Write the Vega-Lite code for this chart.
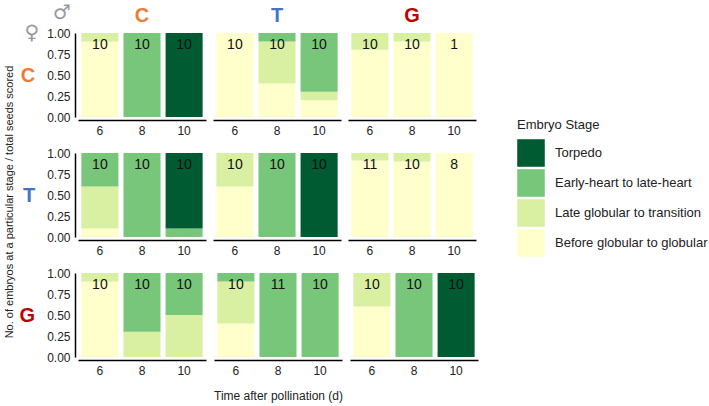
{
  "$schema": "https://vega.github.io/schema/vega-lite/v6.json",
  "padding": {"left": 4, "top": 3, "right": 5, "bottom": 5},
  "background": "white",
  "title": {"text": "No. of embryos at a particular stage / total seeds scored", "orient": "left", "anchor": "middle", "frame": "bounds", "fontSize": 11, "fontWeight": "normal", "font": "Liberation Sans", "color": "#222", "offset": 4},
  "datasets": {
    "stages": [
      {"female": "C", "male": "C", "time": 6, "stage": "Before globular to globular", "k": 1, "prop": 0.9},
      {"female": "C", "male": "C", "time": 6, "stage": "Late globular to transition", "k": 2, "prop": 0.1},
      {"female": "C", "male": "C", "time": 8, "stage": "Early-heart to late-heart", "k": 3, "prop": 1.0},
      {"female": "C", "male": "C", "time": 10, "stage": "Torpedo", "k": 4, "prop": 1.0},
      {"female": "C", "male": "T", "time": 6, "stage": "Before globular to globular", "k": 1, "prop": 1.0},
      {"female": "C", "male": "T", "time": 8, "stage": "Before globular to globular", "k": 1, "prop": 0.4},
      {"female": "C", "male": "T", "time": 8, "stage": "Late globular to transition", "k": 2, "prop": 0.5},
      {"female": "C", "male": "T", "time": 8, "stage": "Early-heart to late-heart", "k": 3, "prop": 0.1},
      {"female": "C", "male": "T", "time": 10, "stage": "Before globular to globular", "k": 1, "prop": 0.2},
      {"female": "C", "male": "T", "time": 10, "stage": "Late globular to transition", "k": 2, "prop": 0.1},
      {"female": "C", "male": "T", "time": 10, "stage": "Early-heart to late-heart", "k": 3, "prop": 0.7},
      {"female": "C", "male": "G", "time": 6, "stage": "Before globular to globular", "k": 1, "prop": 0.8},
      {"female": "C", "male": "G", "time": 6, "stage": "Late globular to transition", "k": 2, "prop": 0.2},
      {"female": "C", "male": "G", "time": 8, "stage": "Before globular to globular", "k": 1, "prop": 0.9},
      {"female": "C", "male": "G", "time": 8, "stage": "Late globular to transition", "k": 2, "prop": 0.1},
      {"female": "C", "male": "G", "time": 10, "stage": "Before globular to globular", "k": 1, "prop": 1.0},
      {"female": "T", "male": "C", "time": 6, "stage": "Before globular to globular", "k": 1, "prop": 0.1},
      {"female": "T", "male": "C", "time": 6, "stage": "Late globular to transition", "k": 2, "prop": 0.5},
      {"female": "T", "male": "C", "time": 6, "stage": "Early-heart to late-heart", "k": 3, "prop": 0.4},
      {"female": "T", "male": "C", "time": 8, "stage": "Early-heart to late-heart", "k": 3, "prop": 1.0},
      {"female": "T", "male": "C", "time": 10, "stage": "Early-heart to late-heart", "k": 3, "prop": 0.1},
      {"female": "T", "male": "C", "time": 10, "stage": "Torpedo", "k": 4, "prop": 0.9},
      {"female": "T", "male": "T", "time": 6, "stage": "Before globular to globular", "k": 1, "prop": 0.6},
      {"female": "T", "male": "T", "time": 6, "stage": "Late globular to transition", "k": 2, "prop": 0.4},
      {"female": "T", "male": "T", "time": 8, "stage": "Early-heart to late-heart", "k": 3, "prop": 1.0},
      {"female": "T", "male": "T", "time": 10, "stage": "Torpedo", "k": 4, "prop": 1.0},
      {"female": "T", "male": "G", "time": 6, "stage": "Before globular to globular", "k": 1, "prop": 0.91},
      {"female": "T", "male": "G", "time": 6, "stage": "Late globular to transition", "k": 2, "prop": 0.09},
      {"female": "T", "male": "G", "time": 8, "stage": "Before globular to globular", "k": 1, "prop": 0.9},
      {"female": "T", "male": "G", "time": 8, "stage": "Late globular to transition", "k": 2, "prop": 0.1},
      {"female": "T", "male": "G", "time": 10, "stage": "Before globular to globular", "k": 1, "prop": 1.0},
      {"female": "G", "male": "C", "time": 6, "stage": "Before globular to globular", "k": 1, "prop": 0.9},
      {"female": "G", "male": "C", "time": 6, "stage": "Late globular to transition", "k": 2, "prop": 0.1},
      {"female": "G", "male": "C", "time": 8, "stage": "Late globular to transition", "k": 2, "prop": 0.3},
      {"female": "G", "male": "C", "time": 8, "stage": "Early-heart to late-heart", "k": 3, "prop": 0.7},
      {"female": "G", "male": "C", "time": 10, "stage": "Late globular to transition", "k": 2, "prop": 0.5},
      {"female": "G", "male": "C", "time": 10, "stage": "Early-heart to late-heart", "k": 3, "prop": 0.5},
      {"female": "G", "male": "T", "time": 6, "stage": "Before globular to globular", "k": 1, "prop": 0.4},
      {"female": "G", "male": "T", "time": 6, "stage": "Late globular to transition", "k": 2, "prop": 0.5},
      {"female": "G", "male": "T", "time": 6, "stage": "Early-heart to late-heart", "k": 3, "prop": 0.1},
      {"female": "G", "male": "T", "time": 8, "stage": "Early-heart to late-heart", "k": 3, "prop": 1.0},
      {"female": "G", "male": "T", "time": 10, "stage": "Early-heart to late-heart", "k": 3, "prop": 1.0},
      {"female": "G", "male": "G", "time": 6, "stage": "Before globular to globular", "k": 1, "prop": 0.6},
      {"female": "G", "male": "G", "time": 6, "stage": "Late globular to transition", "k": 2, "prop": 0.4},
      {"female": "G", "male": "G", "time": 8, "stage": "Early-heart to late-heart", "k": 3, "prop": 1.0},
      {"female": "G", "male": "G", "time": 10, "stage": "Torpedo", "k": 4, "prop": 1.0}
    ],
    "counts": [
      {"female": "C", "male": "C", "time": 6, "n": 10}, {"female": "C", "male": "C", "time": 8, "n": 10}, {"female": "C", "male": "C", "time": 10, "n": 10},
      {"female": "C", "male": "T", "time": 6, "n": 10}, {"female": "C", "male": "T", "time": 8, "n": 10}, {"female": "C", "male": "T", "time": 10, "n": 10},
      {"female": "C", "male": "G", "time": 6, "n": 10}, {"female": "C", "male": "G", "time": 8, "n": 10}, {"female": "C", "male": "G", "time": 10, "n": 1},
      {"female": "T", "male": "C", "time": 6, "n": 10}, {"female": "T", "male": "C", "time": 8, "n": 10}, {"female": "T", "male": "C", "time": 10, "n": 10},
      {"female": "T", "male": "T", "time": 6, "n": 10}, {"female": "T", "male": "T", "time": 8, "n": 10}, {"female": "T", "male": "T", "time": 10, "n": 10},
      {"female": "T", "male": "G", "time": 6, "n": 11}, {"female": "T", "male": "G", "time": 8, "n": 10}, {"female": "T", "male": "G", "time": 10, "n": 8},
      {"female": "G", "male": "C", "time": 6, "n": 10}, {"female": "G", "male": "C", "time": 8, "n": 10}, {"female": "G", "male": "C", "time": 10, "n": 10},
      {"female": "G", "male": "T", "time": 6, "n": 10}, {"female": "G", "male": "T", "time": 8, "n": 11}, {"female": "G", "male": "T", "time": 10, "n": 10},
      {"female": "G", "male": "G", "time": 6, "n": 10}, {"female": "G", "male": "G", "time": 8, "n": 10}, {"female": "G", "male": "G", "time": 10, "n": 10}
    ],
    "labels": [{"label": "header"}]
  },
  "spacing": 11,
  "vconcat": [
    {"hconcat": [
      {"width": 128, "height": 84,
       "layer": [
        {"data": {"name": "stages"}, "transform": [{"filter": "datum.female == 'C' && datum.male == 'C'"}], "mark": "bar",
         "encoding": {"x": {"field": "time", "type": "ordinal", "axis": {"title": null}},
          "y": {"field": "prop", "type": "quantitative", "stack": "zero", "scale": {"domain": [0, 1]}, "axis": {"values": [0, 0.25, 0.5, 0.75, 1], "format": ".2f", "labelOverlap": false, "title": "C", "titleColor": "#ee7d31"}},
          "color": {"field": "stage", "type": "nominal", "title": "Embryo Stage", "scale": {"domain": ["Torpedo", "Early-heart to late-heart", "Late globular to transition", "Before globular to globular"]}}, "order": {"field": "k", "type": "quantitative"}}},
        {"data": {"name": "counts"}, "transform": [{"filter": "datum.female == 'C' && datum.male == 'C'"}], "mark": {"type": "text", "fontSize": 14, "color": "#111"},
         "encoding": {"x": {"field": "time", "type": "ordinal"}, "y": {"datum": 0.86, "type": "quantitative", "axis": {"values": [0, 0.25, 0.5, 0.75, 1], "format": ".2f", "labelOverlap": false, "title": "C", "titleColor": "#ee7d31"}}, "text": {"field": "n"}}},
        {"data": {"name": "labels"}, "mark": {"type": "text", "font": "DejaVu Sans", "fontSize": 20, "color": "#999", "dx": -68, "dy": 0}, "encoding": {"x": {"datum": 6, "type": "ordinal"}, "y": {"datum": 1, "type": "quantitative", "axis": {"values": [0, 0.25, 0.5, 0.75, 1], "format": ".2f", "labelOverlap": false, "title": "C", "titleColor": "#ee7d31"}}, "text": {"value": "♀"}}},
        {"data": {"name": "labels"}, "mark": {"type": "text", "font": "DejaVu Sans", "fontSize": 20, "color": "#999", "dx": -38, "dy": -20}, "encoding": {"x": {"datum": 6, "type": "ordinal"}, "y": {"datum": 1, "type": "quantitative", "axis": {"values": [0, 0.25, 0.5, 0.75, 1], "format": ".2f", "labelOverlap": false, "title": "C", "titleColor": "#ee7d31"}}, "text": {"value": "♂"}}},
        {"data": {"name": "labels"}, "mark": {"type": "text", "fontSize": 20, "fontWeight": "bold", "color": "#ee7d31", "dy": -17}, "encoding": {"x": {"datum": 8, "type": "ordinal"}, "y": {"datum": 1, "type": "quantitative", "axis": {"values": [0, 0.25, 0.5, 0.75, 1], "format": ".2f", "labelOverlap": false, "title": "C", "titleColor": "#ee7d31"}}, "text": {"value": "C"}}}
       ]},
      {"width": 128, "height": 84,
       "layer": [
        {"data": {"name": "stages"}, "transform": [{"filter": "datum.female == 'C' && datum.male == 'T'"}], "mark": "bar",
         "encoding": {"x": {"field": "time", "type": "ordinal", "axis": {"title": null}},
          "y": {"field": "prop", "type": "quantitative", "stack": "zero", "scale": {"domain": [0, 1]}, "axis": null},
          "color": {"field": "stage", "type": "nominal", "title": "Embryo Stage", "scale": {"domain": ["Torpedo", "Early-heart to late-heart", "Late globular to transition", "Before globular to globular"]}}, "order": {"field": "k", "type": "quantitative"}}},
        {"data": {"name": "counts"}, "transform": [{"filter": "datum.female == 'C' && datum.male == 'T'"}], "mark": {"type": "text", "fontSize": 14, "color": "#111"},
         "encoding": {"x": {"field": "time", "type": "ordinal"}, "y": {"datum": 0.86, "type": "quantitative", "axis": null}, "text": {"field": "n"}}},
        {"data": {"name": "labels"}, "mark": {"type": "text", "fontSize": 20, "fontWeight": "bold", "color": "#4472c4", "dy": -17}, "encoding": {"x": {"datum": 8, "type": "ordinal"}, "y": {"datum": 1, "type": "quantitative", "axis": null}, "text": {"value": "T"}}}
       ]},
      {"width": 128, "height": 84,
       "layer": [
        {"data": {"name": "stages"}, "transform": [{"filter": "datum.female == 'C' && datum.male == 'G'"}], "mark": "bar",
         "encoding": {"x": {"field": "time", "type": "ordinal", "axis": {"title": null}},
          "y": {"field": "prop", "type": "quantitative", "stack": "zero", "scale": {"domain": [0, 1]}, "axis": null},
          "color": {"field": "stage", "type": "nominal", "title": "Embryo Stage", "scale": {"domain": ["Torpedo", "Early-heart to late-heart", "Late globular to transition", "Before globular to globular"]}}, "order": {"field": "k", "type": "quantitative"}}},
        {"data": {"name": "counts"}, "transform": [{"filter": "datum.female == 'C' && datum.male == 'G'"}], "mark": {"type": "text", "fontSize": 14, "color": "#111"},
         "encoding": {"x": {"field": "time", "type": "ordinal"}, "y": {"datum": 0.86, "type": "quantitative", "axis": null}, "text": {"field": "n"}}},
        {"data": {"name": "labels"}, "mark": {"type": "text", "fontSize": 20, "fontWeight": "bold", "color": "#c00000", "dy": -17}, "encoding": {"x": {"datum": 8, "type": "ordinal"}, "y": {"datum": 1, "type": "quantitative", "axis": null}, "text": {"value": "G"}}}
       ]}
    ]},
    {"hconcat": [
      {"width": 128, "height": 84,
       "layer": [
        {"data": {"name": "stages"}, "transform": [{"filter": "datum.female == 'T' && datum.male == 'C'"}], "mark": "bar",
         "encoding": {"x": {"field": "time", "type": "ordinal", "axis": {"title": null}},
          "y": {"field": "prop", "type": "quantitative", "stack": "zero", "scale": {"domain": [0, 1]}, "axis": {"values": [0, 0.25, 0.5, 0.75, 1], "format": ".2f", "labelOverlap": false, "title": "T", "titleColor": "#4472c4"}},
          "color": {"field": "stage", "type": "nominal", "title": "Embryo Stage", "scale": {"domain": ["Torpedo", "Early-heart to late-heart", "Late globular to transition", "Before globular to globular"]}}, "order": {"field": "k", "type": "quantitative"}}},
        {"data": {"name": "counts"}, "transform": [{"filter": "datum.female == 'T' && datum.male == 'C'"}], "mark": {"type": "text", "fontSize": 14, "color": "#111"},
         "encoding": {"x": {"field": "time", "type": "ordinal"}, "y": {"datum": 0.86, "type": "quantitative", "axis": {"values": [0, 0.25, 0.5, 0.75, 1], "format": ".2f", "labelOverlap": false, "title": "T", "titleColor": "#4472c4"}}, "text": {"field": "n"}}}
       ]},
      {"width": 128, "height": 84,
       "layer": [
        {"data": {"name": "stages"}, "transform": [{"filter": "datum.female == 'T' && datum.male == 'T'"}], "mark": "bar",
         "encoding": {"x": {"field": "time", "type": "ordinal", "axis": {"title": null}},
          "y": {"field": "prop", "type": "quantitative", "stack": "zero", "scale": {"domain": [0, 1]}, "axis": null},
          "color": {"field": "stage", "type": "nominal", "title": "Embryo Stage", "scale": {"domain": ["Torpedo", "Early-heart to late-heart", "Late globular to transition", "Before globular to globular"]}}, "order": {"field": "k", "type": "quantitative"}}},
        {"data": {"name": "counts"}, "transform": [{"filter": "datum.female == 'T' && datum.male == 'T'"}], "mark": {"type": "text", "fontSize": 14, "color": "#111"},
         "encoding": {"x": {"field": "time", "type": "ordinal"}, "y": {"datum": 0.86, "type": "quantitative", "axis": null}, "text": {"field": "n"}}}
       ]},
      {"width": 128, "height": 84,
       "layer": [
        {"data": {"name": "stages"}, "transform": [{"filter": "datum.female == 'T' && datum.male == 'G'"}], "mark": "bar",
         "encoding": {"x": {"field": "time", "type": "ordinal", "axis": {"title": null}},
          "y": {"field": "prop", "type": "quantitative", "stack": "zero", "scale": {"domain": [0, 1]}, "axis": null},
          "color": {"field": "stage", "type": "nominal", "title": "Embryo Stage", "scale": {"domain": ["Torpedo", "Early-heart to late-heart", "Late globular to transition", "Before globular to globular"]}}, "order": {"field": "k", "type": "quantitative"}}},
        {"data": {"name": "counts"}, "transform": [{"filter": "datum.female == 'T' && datum.male == 'G'"}], "mark": {"type": "text", "fontSize": 14, "color": "#111"},
         "encoding": {"x": {"field": "time", "type": "ordinal"}, "y": {"datum": 0.86, "type": "quantitative", "axis": null}, "text": {"field": "n"}}}
       ]}
    ]},
    {"hconcat": [
      {"width": 128, "height": 84,
       "layer": [
        {"data": {"name": "stages"}, "transform": [{"filter": "datum.female == 'G' && datum.male == 'C'"}], "mark": "bar",
         "encoding": {"x": {"field": "time", "type": "ordinal", "axis": {"title": null}},
          "y": {"field": "prop", "type": "quantitative", "stack": "zero", "scale": {"domain": [0, 1]}, "axis": {"values": [0, 0.25, 0.5, 0.75, 1], "format": ".2f", "labelOverlap": false, "title": "G", "titleColor": "#c00000"}},
          "color": {"field": "stage", "type": "nominal", "title": "Embryo Stage", "scale": {"domain": ["Torpedo", "Early-heart to late-heart", "Late globular to transition", "Before globular to globular"]}}, "order": {"field": "k", "type": "quantitative"}}},
        {"data": {"name": "counts"}, "transform": [{"filter": "datum.female == 'G' && datum.male == 'C'"}], "mark": {"type": "text", "fontSize": 14, "color": "#111"},
         "encoding": {"x": {"field": "time", "type": "ordinal"}, "y": {"datum": 0.86, "type": "quantitative", "axis": {"values": [0, 0.25, 0.5, 0.75, 1], "format": ".2f", "labelOverlap": false, "title": "G", "titleColor": "#c00000"}}, "text": {"field": "n"}}}
       ]},
      {"width": 128, "height": 84,
       "layer": [
        {"data": {"name": "stages"}, "transform": [{"filter": "datum.female == 'G' && datum.male == 'T'"}], "mark": "bar",
         "encoding": {"x": {"field": "time", "type": "ordinal", "axis": {"title": "Time after pollination (d)"}},
          "y": {"field": "prop", "type": "quantitative", "stack": "zero", "scale": {"domain": [0, 1]}, "axis": null},
          "color": {"field": "stage", "type": "nominal", "title": "Embryo Stage", "scale": {"domain": ["Torpedo", "Early-heart to late-heart", "Late globular to transition", "Before globular to globular"]}}, "order": {"field": "k", "type": "quantitative"}}},
        {"data": {"name": "counts"}, "transform": [{"filter": "datum.female == 'G' && datum.male == 'T'"}], "mark": {"type": "text", "fontSize": 14, "color": "#111"},
         "encoding": {"x": {"field": "time", "type": "ordinal"}, "y": {"datum": 0.86, "type": "quantitative", "axis": null}, "text": {"field": "n"}}}
       ]},
      {"width": 128, "height": 84,
       "layer": [
        {"data": {"name": "stages"}, "transform": [{"filter": "datum.female == 'G' && datum.male == 'G'"}], "mark": "bar",
         "encoding": {"x": {"field": "time", "type": "ordinal", "axis": {"title": null}},
          "y": {"field": "prop", "type": "quantitative", "stack": "zero", "scale": {"domain": [0, 1]}, "axis": null},
          "color": {"field": "stage", "type": "nominal", "title": "Embryo Stage", "scale": {"domain": ["Torpedo", "Early-heart to late-heart", "Late globular to transition", "Before globular to globular"]}}, "order": {"field": "k", "type": "quantitative"}}},
        {"data": {"name": "counts"}, "transform": [{"filter": "datum.female == 'G' && datum.male == 'G'"}], "mark": {"type": "text", "fontSize": 14, "color": "#111"},
         "encoding": {"x": {"field": "time", "type": "ordinal"}, "y": {"datum": 0.86, "type": "quantitative", "axis": null}, "text": {"field": "n"}}}
       ]}
    ]}
  ],
  "resolve": {"scale": {"color": "shared"}},
  "config": {
    "font": "Liberation Sans",
    "view": {"stroke": null},
    "concat": {"spacing": 7},
    "scale": {"bandPaddingInner": 0.12, "bandPaddingOuter": 0.08},
    "range": {"category": ["#005a32", "#78c679", "#d9f0a3", "#ffffcc"]},
    "axis": {"grid": false, "ticks": false, "domainColor": "#000", "domainWidth": 1.5, "labelFont": "Liberation Sans", "labelFontSize": 12, "labelColor": "#222", "titleFont": "Liberation Sans", "labelOverlap": false},
    "axisX": {"offset": 3, "labelPadding": 5, "labelAngle": 0, "titleFontSize": 12, "titleFontWeight": "normal", "titleColor": "#222", "titlePadding": 14},
    "axisY": {"offset": 3, "labelPadding": 5, "format": ".2f", "titleAngle": 0, "titleFontSize": 20, "titleFontWeight": "bold", "titleAlign": "right", "titleBaseline": "middle", "titlePadding": 12},
    "legend": {"orient": "none", "legendX": 439, "legendY": 86, "titleFontSize": 13, "titleFontWeight": "normal", "titleColor": "#222", "titlePadding": 7, "labelFontSize": 13, "labelColor": "#222", "labelLimit": 300, "labelOffset": 10, "symbolType": "square", "symbolSize": 760, "symbolStrokeWidth": 0, "symbolOpacity": 1, "rowPadding": 2}
  }
}
